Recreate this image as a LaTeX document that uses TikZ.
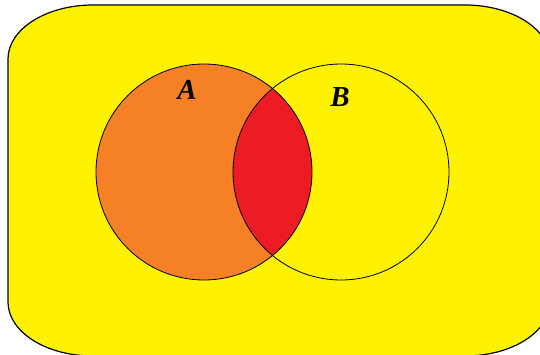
\documentclass[tikz,border=0pt]{standalone}
\usepackage{fontspec}
\setmainfont{Liberation Serif}
\definecolor{univyellow}{RGB}{255,242,0}
\definecolor{setorange}{RGB}{246,128,38}
\definecolor{setred}{RGB}{237,28,36}
\usepackage{tikz}
\usetikzlibrary{positioning}

\begin{document}
\begin{tikzpicture}[x=1pt,y=1pt,
    setcirc/.style={circle, draw=black, line width=0.8pt, minimum size=216pt, inner sep=0pt},
    setlabel/.style={font=\fontsize{29}{31}\selectfont\bfseries\itshape}]
    \useasboundingbox (0,0) rectangle (540,354);
    \clip (0,0) rectangle (540,354);
    % universe
    \draw[line width=1.2pt, fill=univyellow] (8,295)
        arc[start angle=180, end angle=90, x radius=85, y radius=54] -- (465,349)
        arc[start angle=90, end angle=0, x radius=85, y radius=54] -- (550,52)
        arc[start angle=0, end angle=-90, x radius=85, y radius=54] -- (93,-2)
        arc[start angle=270, end angle=180, x radius=85, y radius=54] -- cycle;
    % sets
    \fill[setorange] (204,182) circle (108);
    \begin{scope}
      \clip (204,182) circle (108);
      \fill[setred] (341,182) circle (108);
    \end{scope}
    \node[setcirc] (A) at (204,182) {};
    \node[setcirc] (B) at (341,182) {};
    \node[setlabel] (labA) at (187,264) {A};
    \node[setlabel] (labB) at (340,257) {B};
\end{tikzpicture}
\end{document}
